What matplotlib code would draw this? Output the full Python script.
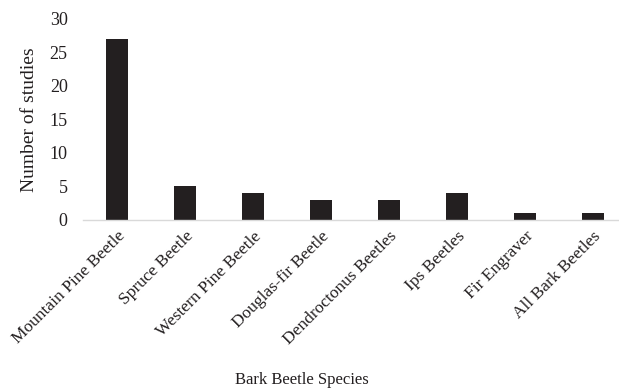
import numpy as np
import matplotlib
matplotlib.use('Agg')
import matplotlib.pyplot as plt

plt.rcParams['font.family'] = ['Liberation Serif', 'DejaVu Serif']

# Data
species = ['Mountain Pine Beetle', 'Spruce Beetle', 'Western Pine Beetle',
           'Douglas-fir Beetle', 'Dendroctonus Beetles', 'Ips Beetles',
           'Fir Engraver', 'All Bark Beetles']
studies = [27, 5, 4, 3, 3, 4, 1, 1]
y_ticks = [0, 5, 10, 15, 20, 25, 30]

fig = plt.figure(figsize=(6.19, 3.92), dpi=100)
# plot area runs slightly past the right edge, as in the cropped original
ax = fig.add_axes([0.134, 0.439, 0.879, 0.513])

x = np.arange(len(species))
ax.bar(x, studies, width=0.32, color='#231f20')

ax.set_xlim(-0.5, len(species) - 0.5)
ax.set_ylim(0, 30)
ax.set_yticks(y_ticks)
ax.set_xticks(x)
ax.set_xticklabels(species, rotation=45, ha='right', rotation_mode='anchor')
ax.tick_params(axis='both', length=0, colors='#231f20')
ax.tick_params(axis='x', pad=6, labelsize=12.5)
ax.tick_params(axis='y', pad=11, labelsize=13)

for s in ['top', 'right', 'left']:
    ax.spines[s].set_visible(False)
ax.spines['bottom'].set_color('#d9d9d9')
ax.spines['bottom'].set_linewidth(1.0)

ax.set_ylabel('Number of studies', fontsize=14, color='#231f20', labelpad=8)
fig.text(0.488, 0.02, 'Bark Beetle Species', fontsize=12, color='#231f20', ha='center')

fig.savefig('out.png', dpi=100)
